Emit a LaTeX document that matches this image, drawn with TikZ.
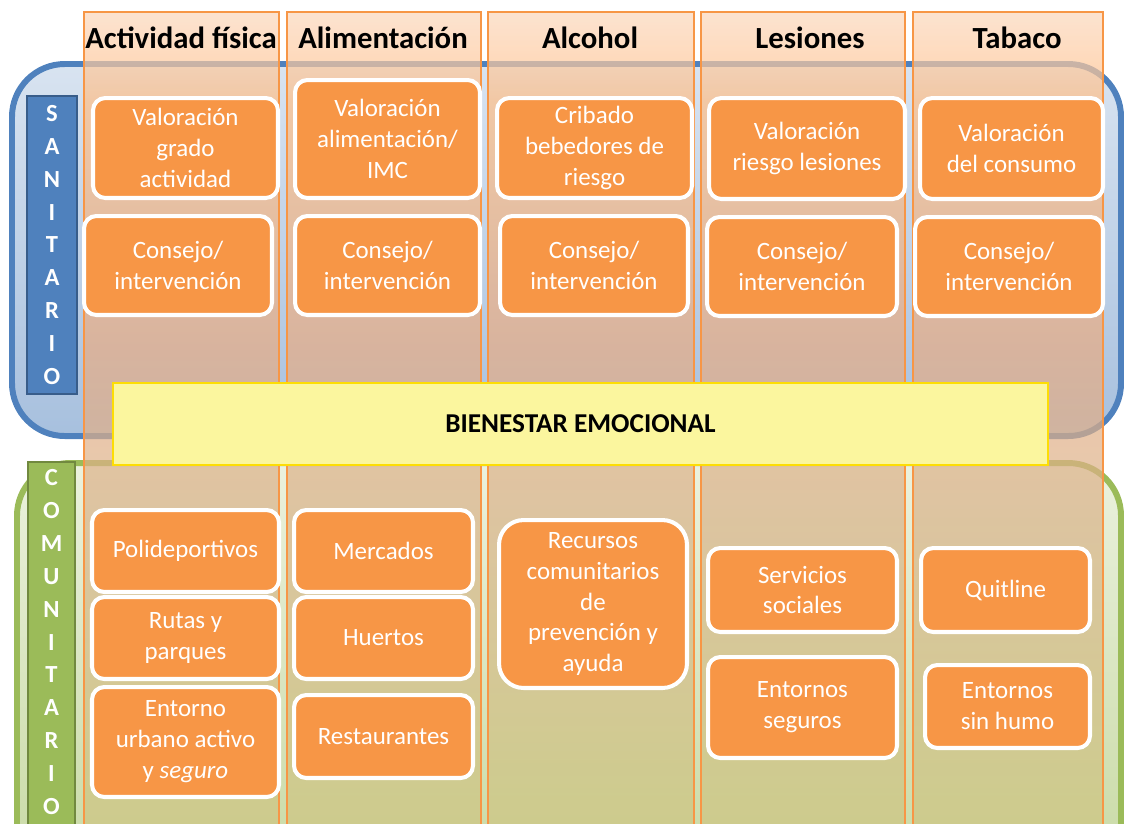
\documentclass[tikz,border=0pt]{standalone}
\usepackage{fontspec}
\setmainfont{Carlito}
\usetikzlibrary{positioning,shadows}

\definecolor{naranja}{HTML}{F79646}
\definecolor{azul}{HTML}{4F81BD}
\definecolor{azulosc}{HTML}{385D8A}
\definecolor{verde}{HTML}{9BBB59}
\definecolor{verdeosc}{HTML}{71893F}
\definecolor{amarillo}{HTML}{FBF69E}
\definecolor{cola}{HTML}{FBD7BC}
\definecolor{colb}{HTML}{FFBF87}
\definecolor{colc}{HTML}{E8AB82}
\definecolor{cold}{HTML}{DAB28A}
\definecolor{cole}{HTML}{CEC481}
\pgfdeclareverticalshading{colgrad}{100bp}{color(0bp)=(cole); color(27.4bp)=(cole);
  color(45.5bp)=(cold); color(54.6bp)=(colc); color(69.7bp)=(colb); color(75bp)=(cola);
  color(100bp)=(cola)}

\begin{document}
\begin{tikzpicture}[x=0.02cm,y=-0.02cm]
       \tikzstyle{caja}=[rounded corners=7pt, fill=naranja, draw=white, line width=2.3pt,
         text=white, align=center, inner sep=2pt, font=\fontsize{14.2}{17.6}\selectfont,
         drop shadow={shadow xshift=0.6pt, shadow yshift=-1pt, opacity=0.3}]
       \tikzstyle{columna}=[draw=naranja, line width=1.1pt, shading=colgrad, fill opacity=0.7]
       \tikzstyle{titulo}=[font=\fontsize{17.5}{21}\selectfont\bfseries]
       \tikzstyle{etiq}=[text=white, align=center, line width=1.6pt,
         font=\fontsize{14}{18.7}\selectfont\bfseries]

       \useasboundingbox (0,0) rectangle (1124,823);

       % fondos
       \draw[azul, line width=3.4pt, rounded corners=30pt, top color=azul!22!white,
         middle color=white, bottom color=azul!50!white] (12,64) rectangle (1121,436);
       \draw[verde, line width=3.4pt, rounded corners=30pt, top color=verde!20!white,
         middle color=white, bottom color=verde!55!white] (17,463) rectangle (1121,880);

       \node[etiq, fill=azul, draw=azulosc, minimum width=1cm, minimum height=5.96cm]
         (san) at (52,245) {S\\A\\N\\I\\T\\A\\R\\I\\O};
       \node[etiq, fill=verde, draw=verdeosc, minimum width=0.94cm, minimum height=7.36cm]
         (com) at (51.5,646) {};
       \node[etiq] (com_t) at (51.5,642) {C\\O\\M\\U\\N\\I\\T\\A\\R\\I\\O};

       % columnas
       \shade[columna] (84,12) rectangle (279,840);
       \shade[columna] (287,12) rectangle (481,840);
       \shade[columna] (488,12) rectangle (694,840);
       \shade[columna] (701,12) rectangle (905,840);
       \shade[columna] (913,12) rectangle (1103,840);

       \node[titulo] (h_1) at (181,38) {Actividad física};
       \node[titulo] (h_2) at (383,38) {Alimentación};
       \node[titulo] (h_3) at (590,38) {Alcohol};
       \node[titulo] (h_4) at (810,38) {Lesiones};
       \node[titulo] (h_5) at (1017,38) {Tabaco};

       \node[draw=yellow!80!orange, line width=1.2pt, fill=amarillo, minimum width=18.7cm,
         minimum height=1.64cm, font=\fontsize{15.5}{18}\selectfont\bfseries]
         (bien) at (580.5,424) {BIENESTAR EMOCIONAL};

       % sanitario
       \node[caja, minimum width=3.7cm, minimum height=2cm] (v_1) at (185.5,148) {Valoración\\grado\\actividad};
       \node[caja, minimum width=3.76cm, minimum height=1.98cm] (c_1) at (178,265.5) {Consejo/\\intervención};
       \node[caja, minimum width=3.7cm, minimum height=2.36cm] (v_2) at (387.5,139) {Valoración\\alimentación/\\IMC};
       \node[caja, minimum width=3.7cm, minimum height=1.98cm] (c_2) at (387.5,265.5) {Consejo/\\intervención};
       \node[caja, minimum width=3.9cm, minimum height=2cm] (v_3) at (594.5,148) {Cribado\\bebedores de\\riesgo};
       \node[caja, minimum width=3.76cm, minimum height=1.98cm] (c_3) at (594,265.5) {Consejo/\\intervención};
       \node[caja, minimum width=3.92cm, minimum height=2.02cm] (v_4) at (807,148.5) {Valoración\\riesgo lesiones};
       \node[caja, minimum width=3.8cm, minimum height=1.98cm] (c_4) at (802,266.5) {Consejo/\\intervención};
       \node[caja, minimum width=3.66cm, minimum height=2.02cm] (v_5) at (1011.5,148.5) {Valoración\\del consumo};
       \node[caja, minimum width=3.76cm, minimum height=1.98cm] (c_5) at (1009,266.5) {Consejo/\\intervención};

       % comunitario
       \node[caja, minimum width=3.74cm, minimum height=1.64cm] (p_1) at (185.5,551) {Polideportivos};
       \node[caja, minimum width=3.74cm, minimum height=1.64cm] (p_2) at (185.5,638) {Rutas y\\parques};
       \node[caja, minimum width=3.74cm, minimum height=2.2cm] (p_3) at (185.5,742) {Entorno\\urbano activo\\y \textit{seguro}};
       \node[caja, minimum width=3.58cm, minimum height=1.64cm] (m_1) at (383.5,551) {Mercados};
       \node[caja, minimum width=3.58cm, minimum height=1.64cm] (m_2) at (383.5,638) {Huertos};
       \node[caja, minimum width=3.58cm, minimum height=1.66cm] (m_3) at (383.5,736.5) {Restaurantes};
       \node[caja, rounded corners=14pt, minimum width=3.76cm, minimum height=3.36cm] (r_1) at (593,604)
         {Recursos\\comunitarios\\de\\prevención y\\ayuda};
       \node[caja, minimum width=3.78cm, minimum height=1.68cm] (s_1) at (802.5,590) {Servicios\\sociales};
       \node[caja, minimum width=3.78cm, minimum height=2.02cm] (s_2) at (802.5,707.5) {Entornos\\seguros};
       \node[caja, minimum width=3.38cm, minimum height=1.68cm] (q_1) at (1005.5,590) {Quitline};
       \node[caja, minimum width=3.3cm, minimum height=1.66cm] (q_2) at (1007.5,706.5) {Entornos\\sin humo};
\end{tikzpicture}
\end{document}
